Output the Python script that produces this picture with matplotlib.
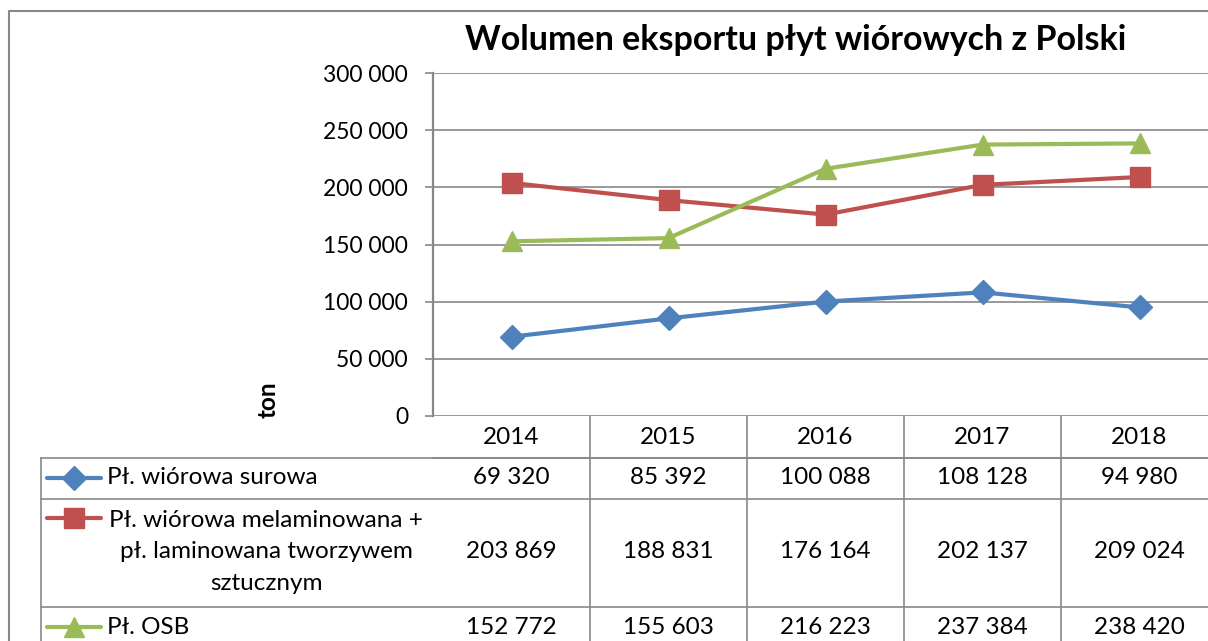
import numpy as np
import matplotlib.pyplot as plt
from matplotlib.ticker import FuncFormatter

years = ['2014', '2015', '2016', '2017', '2018']
surowa = [69320, 85392, 100088, 108128, 94980]
melamina = [203869, 188831, 176164, 202137, 209024]
osb = [152772, 155603, 216223, 237384, 238420]
labels = ['Pł. wiórowa surowa',
          'Pł. wiórowa melaminowana +\npł. laminowana tworzywem\nsztucznym',
          'Pł. OSB']
colors = ['#4F81BD', '#C0504D', '#9BBB59']
markers = ['D', 's', '^']
msizes = [12, 14, 15]
title = 'Wolumen eksportu płyt wiórowych z Polski'

plt.rcParams['font.family'] = ['Lato', 'DejaVu Sans']
W, H = 1208, 641
grid_c = '#888888'
fs = 17.5


def fmt(v):
    return f'{v:,.0f}'.replace(',', ' ')


fig = plt.figure(figsize=(W / 100, H / 100), dpi=100)

# overlay in pixel coordinates for frame, table and labels
bg = fig.add_axes([0, 0, 1, 1])
bg.set_xlim(0, W)
bg.set_ylim(H, 0)
bg.axis('off')

# plot area: left 433, top 73, bottom 416, category width 157
x0, ytop, ybot, cw = 433, 73, 416, 157
ax = fig.add_axes([x0 / W, (H - ybot) / H, 5 * cw / W, (ybot - ytop) / H])
ax.set_xlim(-0.5, 4.5)
ax.set_ylim(0, 300000)
ax.set_yticks(np.arange(0, 300001, 50000))
ax.yaxis.set_major_formatter(FuncFormatter(lambda v, p: fmt(v)))
ax.set_xticks([])
ax.grid(axis='y', color=grid_c, lw=1.2)
ax.set_axisbelow(True)
for s in ['top', 'right', 'bottom']:
    ax.spines[s].set_visible(False)
ax.spines['left'].set_color(grid_c)
ax.spines['left'].set_linewidth(1.6)
ax.tick_params(axis='y', length=6, color=grid_c, width=1.2, labelsize=16.5, pad=12)
ax.patch.set_alpha(0)

series = [surowa, melamina, osb]
for vals, c, m, ms in zip(series, colors, markers, msizes):
    ax.plot(range(len(years)), vals, color=c, lw=3, marker=m, ms=ms,
            markeredgecolor=c, clip_on=False, zorder=3)

# outer chart frame
bg.plot([9, 9, W], [H, 11, 11], color=grid_c, lw=1.5)

# title and axis label
bg.text(796, 40, title, ha='center', va='center', fontsize=24.5, fontweight='bold')
bg.text(268, 400, 'ton', ha='center', va='center', rotation=90,
        fontsize=fs, fontweight='bold')

# data table
rows = [(416, 458), (458, 499), (499, 607), (607, 647)]
xr = x0 + 5 * cw
bg.plot([x0, xr], [458, 458], color=grid_c, lw=1.2)
for top, bot in rows[1:]:
    bg.plot([41, xr], [top, top], color=grid_c, lw=1.2)
bg.plot([41, 41], [458, H], color=grid_c, lw=1.2)
for i in range(1, 5):
    bg.plot([x0 + i * cw] * 2, [416, H], color=grid_c, lw=1.2)

for i, y in enumerate(years):
    bg.text(x0 + cw * (i + 0.5), 438, y, ha='center', va='center', fontsize=fs)

key_y = [478, 518, 627]
val_y = [478, 552, 627]
for r, (vals, lab, c, m, ms) in enumerate(zip(series, labels, colors, markers, msizes)):
    for i, v in enumerate(vals):
        bg.text(x0 + cw * (i + 0.5), val_y[r], fmt(v), ha='center', va='center', fontsize=fs)
    bg.plot([47, 101], [key_y[r]] * 2, color=c, lw=3, solid_capstyle='round')
    bg.plot([74], [key_y[r]], marker=m, ms=ms, color=c)
    if '\n' in lab:
        bg.text(266, val_y[r], lab, ha='center', va='center', fontsize=fs,
                multialignment='center', linespacing=1.6)
    else:
        bg.text(107, key_y[r], lab, ha='left', va='center', fontsize=fs)

fig.savefig('out.png', dpi=100)
